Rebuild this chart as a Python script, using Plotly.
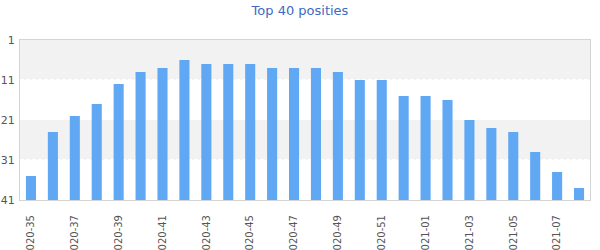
import plotly.graph_objects as go

weeks = ["2020-35", "2020-36", "2020-37", "2020-38", "2020-39", "2020-40", "2020-41",
         "2020-42", "2020-43", "2020-44", "2020-45", "2020-46", "2020-47", "2020-48",
         "2020-49", "2020-50", "2020-51", "2020-52", "2021-01", "2021-02", "2021-03",
         "2021-04", "2021-05", "2021-06", "2021-07", "2021-08"]
positions = [35, 24, 20, 17, 12, 9, 8, 6, 7, 7, 7, 8, 8, 8, 9, 11, 11, 15, 15, 16,
             21, 23, 24, 29, 34, 38]
y_ticks = [1, 11, 21, 31, 41]
bands = [(1, 11), (21, 31)]
bottom = 41

fig = go.Figure()
fig.add_trace(go.Bar(
    x=list(range(len(weeks))),
    y=[bottom - p for p in positions],
    base=positions,
    marker=dict(color="#61a8f4", line=dict(width=0)),
    hoverinfo="skip",
))

for b0, b1 in bands:
    fig.add_shape(type="rect", xref="paper", yref="y", x0=0, x1=1, y0=b0, y1=b1,
                  fillcolor="#f2f2f2", line=dict(width=0), layer="below")
for b0, b1 in bands:
    fig.add_shape(type="line", xref="paper", yref="y", x0=0, x1=1, y0=b1 - 0.12, y1=b1 - 0.12,
                  line=dict(color="white", width=1, dash="4px,2px"), layer="below")

fig.update_layout(
    width=600, height=250,
    margin=dict(l=20, r=10, t=40, b=50, autoexpand=False),
    paper_bgcolor="white", plot_bgcolor="white",
    title=dict(text="Top 40 posities", x=0.5, xanchor="center", y=0.958, yanchor="middle",
               font=dict(family="DejaVu Sans", size=13, color="#3d6ac2")),
    bargap=0.54,
    showlegend=False,
    font=dict(family="DejaVu Sans", size=11, color="#555555"),
)
fig.update_xaxes(
    tickmode="array", tickvals=list(range(0, len(weeks), 2)),
    ticktext=weeks[0::2], tickangle=-90,
    range=[-0.5, len(weeks) - 0.5],
    showgrid=False, zeroline=False, showline=True, linecolor="#d4d4d4", linewidth=1,
    mirror=True, ticks="", ticklabelstandoff=10, automargin=False,
    tickfont=dict(family="DejaVu Sans", size=10, color="#555555"),
)
fig.update_yaxes(
    range=[bottom, 1], tickmode="array", tickvals=y_ticks,
    ticktext=[str(t) for t in y_ticks],
    showgrid=False,
    zeroline=False, showline=True, linecolor="#d4d4d4", linewidth=1, mirror=True,
    ticks="", automargin=False, ticklabelstandoff=2,
    tickfont=dict(family="DejaVu Sans", size=11, color="#555555"),
)

fig.write_html("out.html")
